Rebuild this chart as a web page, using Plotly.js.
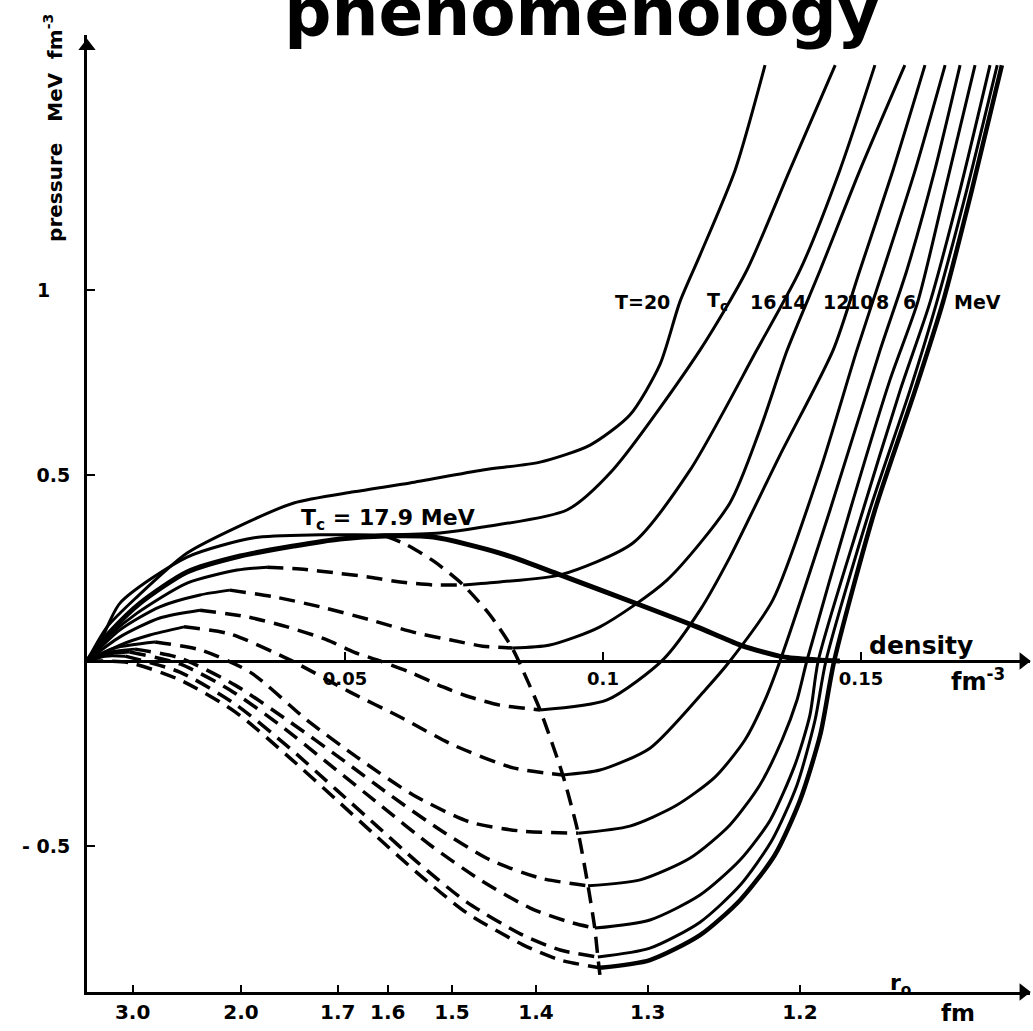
<!DOCTYPE html>
<html><head><meta charset="utf-8">
<script src="https://cdn.plot.ly/plotly-3.0.1.min.js"></script>
<style>html,body{margin:0;padding:0;background:#fff;} #chart{width:1033px;height:1031px;}</style>
</head><body><div id="chart"></div>
<script>
// ---------------- DATA (density fm^-3, pressure MeV fm^-3) ----------------
const T20_rho = [0, 0.0039, 0.0097, 0.0194, 0.0291, 0.0401, 0.0517, 0.0626, 0.0767, 0.0878, 0.0975, 0.1052, 0.1110, 0.1149, 0.1188, 0.1256, 0.1314];
const T20_p   = [0, 0.092, 0.173, 0.291, 0.361, 0.426, 0.456, 0.480, 0.515, 0.536, 0.582, 0.663, 0.798, 0.968, 1.094, 1.323, 1.606];

const TC_rho = [0, 0.0025, 0.0064, 0.0194, 0.0324, 0.0452, 0.0578, 0.0684, 0.0767, 0.0930, 0.1019, 0.1188, 0.1279, 0.1362, 0.1450];
const TC_p   = [0, 0.050, 0.156, 0.280, 0.332, 0.340, 0.340, 0.345, 0.361, 0.407, 0.515, 0.838, 1.054, 1.323, 1.606];

const T16_gas_rho  = [0, 0.0045, 0.0097, 0.0194, 0.0291, 0.0349];
const T16_gas_p    = [0, 0.070, 0.129, 0.210, 0.245, 0.253];
const T16_loop_rho = [0.0349, 0.0413, 0.0484, 0.0548, 0.0607, 0.0671, 0.0729];
const T16_loop_p   = [0.253, 0.248, 0.237, 0.226, 0.213, 0.205, 0.205];
const T16_liq_rho  = [0.0729, 0.0800, 0.0917, 0.1058, 0.1169, 0.1298, 0.1382, 0.1459, 0.1527];
const T16_liq_p    = [0.205, 0.213, 0.232, 0.318, 0.515, 0.838, 1.054, 1.323, 1.606];

const T14_gas_rho  = [0, 0.0064, 0.0141, 0.0219, 0.0277];
const T14_gas_p    = [0, 0.084, 0.146, 0.178, 0.191];
const T14_loop_rho = [0.0277, 0.0362, 0.0452, 0.0548, 0.0640, 0.0703, 0.0767, 0.0824];
const T14_loop_p   = [0.191, 0.173, 0.146, 0.111, 0.075, 0.057, 0.040, 0.035];
const T14_liq_rho  = [0.0824, 0.0897, 0.0994, 0.1124, 0.1246, 0.1304, 0.1357, 0.1421, 0.1498, 0.1585];
const T14_liq_p    = [0.035, 0.043, 0.092, 0.218, 0.426, 0.623, 0.838, 1.054, 1.323, 1.606];

const T12_gas_rho  = [0, 0.0064, 0.0141, 0.0219];
const T12_gas_p    = [0, 0.065, 0.116, 0.137];
const T12_loop_rho = [0.0219, 0.0310, 0.0388, 0.0465, 0.0517, 0.0568, 0.0626, 0.0690, 0.0742, 0.0800, 0.0858, 0.0878];
const T12_loop_p   = [0.137, 0.119, 0.092, 0.057, 0.024, 0, -0.030, -0.070, -0.097, -0.119, -0.129, -0.132];
const T12_liq_rho  = [0.0878, 0.1008, 0.1116, 0.1188, 0.1246, 0.1343, 0.1446, 0.1498, 0.1562, 0.1624];
const T12_liq_p    = [-0.132, -0.105, 0.003, 0.137, 0.280, 0.555, 0.838, 1.054, 1.323, 1.606];

const T10_gas_rho  = [0, 0.0064, 0.0122, 0.0188];
const T10_gas_p    = [0, 0.043, 0.070, 0.092];
const T10_loop_rho = [0.0188, 0.0277, 0.0393, 0.0510, 0.0607, 0.0709, 0.0826, 0.0922];
const T10_loop_p   = [0.092, 0.073, 0.003, -0.084, -0.151, -0.226, -0.288, -0.307];
const T10_liq_rho  = [0.0922, 0.0994, 0.1091, 0.1198, 0.1246, 0.1329, 0.1421, 0.1492, 0.1543, 0.1605, 0.1663];
const T10_liq_p    = [-0.307, -0.294, -0.235, -0.078, 0, 0.164, 0.515, 0.838, 1.054, 1.323, 1.606];

const T8_gas_rho  = [0, 0.0054, 0.0132];
const T8_gas_p    = [0, 0.035, 0.051];
const T8_loop_rho = [0.0132, 0.0219, 0.0316, 0.0426, 0.0523, 0.0632, 0.0742, 0.0839, 0.0952];
const T8_loop_p   = [0.051, 0.030, -0.030, -0.159, -0.259, -0.361, -0.434, -0.458, -0.464];
const T8_liq_rho  = [0.0952, 0.1052, 0.1140, 0.1217, 0.1275, 0.1314, 0.1343, 0.1440, 0.1537, 0.1589, 0.1643, 0.1692];
const T8_liq_p    = [-0.464, -0.445, -0.391, -0.313, -0.213, -0.105, 0, 0.407, 0.838, 1.054, 1.323, 1.606];

const T6_gas_rho  = [0, 0.0045, 0.0093];
const T6_gas_p    = [0, 0.024, 0.032];
const T6_loop_rho = [0.0093, 0.0180, 0.0287, 0.0393, 0.0490, 0.0587, 0.0684, 0.0781, 0.0878, 0.0971];
const T6_loop_p   = [0.032, 0.008, -0.065, -0.164, -0.261, -0.361, -0.455, -0.536, -0.585, -0.606];
const T6_liq_rho  = [0.0971, 0.1072, 0.1169, 0.1246, 0.1304, 0.1347, 0.1376, 0.1395, 0.1479, 0.1556, 0.1610, 0.1663, 0.1721];
const T6_liq_p    = [-0.606, -0.590, -0.531, -0.442, -0.334, -0.213, -0.105, 0, 0.407, 0.757, 0.968, 1.270, 1.606];

const T4_gas_rho  = [0, 0.0045, 0.0083];
const T4_gas_p    = [0, 0.019, 0.024];
const T4_loop_rho = [0.0083, 0.0180, 0.0277, 0.0374, 0.0471, 0.0568, 0.0665, 0.0762, 0.0859, 0.0936, 0.0984];
const T4_loop_p   = [0.024, -0.008, -0.078, -0.173, -0.280, -0.388, -0.496, -0.590, -0.666, -0.704, -0.720];
const T4_liq_rho  = [0.0984, 0.1091, 0.1188, 0.1266, 0.1324, 0.1372, 0.1401, 0.1417, 0.1498, 0.1576, 0.1634, 0.1692, 0.1750];
const T4_liq_p    = [-0.720, -0.698, -0.631, -0.536, -0.429, -0.280, -0.146, 0, 0.380, 0.730, 0.968, 1.270, 1.606];

const T2_gas_rho  = [0, 0.0035, 0.0074];
const T2_gas_p    = [0, 0.013, 0.013];
const T2_loop_rho = [0.0074, 0.0180, 0.0287, 0.0393, 0.0484, 0.0562, 0.0640, 0.0736, 0.0845, 0.0917, 0.0990];
const T2_loop_p   = [0.013, -0.030, -0.116, -0.235, -0.348, -0.445, -0.542, -0.650, -0.739, -0.779, -0.798];
const T2_liq_rho  = [0.0990, 0.1091, 0.1188, 0.1266, 0.1328, 0.1376, 0.1411, 0.1432, 0.1517, 0.1595, 0.1647, 0.1705, 0.1764];
const T2_liq_p    = [-0.798, -0.774, -0.704, -0.604, -0.482, -0.334, -0.159, 0, 0.407, 0.730, 0.968, 1.270, 1.606];

const T0_loop_rho = [0, 0.0083, 0.0180, 0.0287, 0.0393, 0.0484, 0.0562, 0.0640, 0.0736, 0.0845, 0.0917, 0.0994];
const T0_loop_p   = [0, -0.005, -0.051, -0.137, -0.261, -0.375, -0.474, -0.571, -0.679, -0.765, -0.806, -0.827];
const T0_liq_rho  = [0.0994, 0.1091, 0.1188, 0.1266, 0.1333, 0.1382, 0.1421, 0.1448, 0.1527, 0.1605, 0.1659, 0.1715, 0.1773];
const T0_liq_p    = [-0.827, -0.806, -0.739, -0.644, -0.523, -0.375, -0.199, 0, 0.407, 0.730, 0.968, 1.270, 1.606];

// coexistence (thick) curve and spinodal (dashed) curve
const coex_rho = [0, 0.0045, 0.0103, 0.0194, 0.0297, 0.0401, 0.0490, 0.0578, 0.0671, 0.0800, 0.0917, 0.1072, 0.1182, 0.1266, 0.1349, 0.1415, 0.1459];
const coex_p   = [0, 0.078, 0.156, 0.240, 0.283, 0.310, 0.329, 0.337, 0.334, 0.291, 0.232, 0.151, 0.092, 0.043, 0.011, 0.003, 0];
const spin_rho = [0.0578, 0.0620, 0.0674, 0.0729, 0.0781, 0.0824, 0.0853, 0.0878, 0.0922, 0.0952, 0.0971, 0.0984, 0.0990, 0.0994];
const spin_p   = [0.337, 0.313, 0.267, 0.205, 0.124, 0.035, -0.051, -0.132, -0.307, -0.464, -0.606, -0.720, -0.798, -0.846];

// axis ticks
const density_ticks  = [0.05, 0.1, 0.15];
const density_labels = ["0.05", "0.1", "0.15"];
const pressure_ticks  = [-0.5, 0.5, 1];
const pressure_labels = ["- 0.5", "0.5", "1\u00a0\u00a0\u00a0"];
const r0_fm     = [3.0, 2.0, 1.7, 1.6, 1.5, 1.4, 1.3, 1.2];
const r0_labels = ["3.0", "2.0", "1.7", "1.6", "1.5", "1.4", "1.3", "1.2"];
const iso_labels = ["T=20", "T<sub>c</sub>", "16", "14", "12", "10", "8", "6", "MeV"];

// ---------------- LAYOUT / STYLE ----------------
const r0_rho = r0_fm.map(r => 3 / (4 * Math.PI * r * r * r));
const iso_label_x = [0.1076, 0.1221, 0.1310, 0.1368, 0.1451, 0.1499, 0.1541, 0.1594, 0.1725];
const iso_label_y = 0.968;
const X_MAX = 0.18275, Y_MIN = -0.8922, Y_MAX = 1.6873;
const FONT = 'DejaVu Sans';

function solid(x, y, w) {
  return {x: x, y: y, type: 'scatter', mode: 'lines', hoverinfo: 'skip', showlegend: false,
          line: {color: '#000', width: w || 3, shape: 'spline', smoothing: 0.7}};
}
function dashed(x, y, w) {
  return {x: x, y: y, type: 'scatter', mode: 'lines', hoverinfo: 'skip', showlegend: false,
          line: {color: '#000', width: w || 3.5, dash: '16px,9px', shape: 'spline', smoothing: 0.7}};
}

const traces = [
  solid(T20_rho, T20_p), solid(TC_rho, TC_p),
  solid(T16_gas_rho, T16_gas_p), dashed(T16_loop_rho, T16_loop_p), solid(T16_liq_rho, T16_liq_p),
  solid(T14_gas_rho, T14_gas_p), dashed(T14_loop_rho, T14_loop_p), solid(T14_liq_rho, T14_liq_p),
  solid(T12_gas_rho, T12_gas_p), dashed(T12_loop_rho, T12_loop_p), solid(T12_liq_rho, T12_liq_p),
  solid(T10_gas_rho, T10_gas_p), dashed(T10_loop_rho, T10_loop_p), solid(T10_liq_rho, T10_liq_p),
  solid(T8_gas_rho, T8_gas_p), dashed(T8_loop_rho, T8_loop_p), solid(T8_liq_rho, T8_liq_p),
  solid(T6_gas_rho, T6_gas_p), dashed(T6_loop_rho, T6_loop_p), solid(T6_liq_rho, T6_liq_p),
  solid(T4_gas_rho, T4_gas_p), dashed(T4_loop_rho, T4_loop_p), solid(T4_liq_rho, T4_liq_p),
  solid(T2_gas_rho, T2_gas_p), dashed(T2_loop_rho, T2_loop_p), solid(T2_liq_rho, T2_liq_p),
  dashed(T0_loop_rho, T0_loop_p), solid(T0_liq_rho, T0_liq_p, 4.5),
  solid(coex_rho, coex_p, 5),
  dashed(spin_rho, spin_p, 3.5),
  // axis arrowheads (tips at the axis ends)
  {x: [0], y: [Y_MAX - 0.03], type: 'scatter', mode: 'markers', cliponaxis: false, hoverinfo: 'skip', showlegend: false,
   marker: {symbol: 'triangle-up', size: 15, color: '#000'}},
  {x: [X_MAX - 0.0013, X_MAX - 0.0013], y: [0, Y_MIN], type: 'scatter', mode: 'markers', cliponaxis: false,
   hoverinfo: 'skip', showlegend: false, marker: {symbol: 'triangle-right', size: 15, color: '#000'}},
  // invisible point so the density axis is drawn
  {x: [0], y: [0], xaxis: 'x2', type: 'scatter', mode: 'markers', marker: {opacity: 0}, hoverinfo: 'skip', showlegend: false}
];

const annotations = [];
iso_labels.forEach((t, i) => annotations.push({
  x: iso_label_x[i], y: iso_label_y, xref: 'x', yref: 'y', text: t, showarrow: false,
  font: {family: FONT, size: 19, color: '#000', weight: 'bold'}, xanchor: 'center', yanchor: 'middle'
}));
annotations.push(
  {x: 0.0583, y: 0.382, xref: 'x', yref: 'y', text: 'T<sub>c</sub> = 17.9 MeV', showarrow: false,
   font: {family: FONT, size: 22, color: '#000', weight: 'bold'}},
  {x: 0.1616, y: 0.042, xref: 'x', yref: 'y', text: 'density', showarrow: false,
   font: {family: FONT, size: 25, color: '#000', weight: 'bold'}},
  {x: 0.1727, y: -0.050, xref: 'x', yref: 'y', text: 'fm<sup>-3</sup>', showarrow: false,
   font: {family: FONT, size: 24, color: '#000', weight: 'bold'}},
  {x: 0.1576, y: -0.872, xref: 'x', yref: 'y', text: 'r<sub>o</sub>', showarrow: false,
   font: {family: FONT, size: 22, color: '#000', weight: 'bold'}},
  {x: 0.1688, y: -0.022, xref: 'x', yref: 'paper', text: 'fm', showarrow: false, yanchor: 'middle',
   font: {family: FONT, size: 23, color: '#000', weight: 'bold'}},
  {x: -0.036, y: 0.903, xref: 'paper', yref: 'paper', xanchor: 'center', yanchor: 'middle',
   text: 'pressure\u00a0\u00a0 MeV \u00a0fm<sup>-3</sup>',
   textangle: -90, showarrow: false, font: {family: FONT, size: 20, color: '#000', weight: 'bold'}}
);

const layout = {
  width: 1033, height: 1031,
  paper_bgcolor: '#fff', plot_bgcolor: '#fff',
  margin: {l: 87, r: 3, t: 35, b: 39},
  showlegend: false,
  title: {text: 'phenomenology', font: {family: FONT, size: 66, color: '#000', weight: 'bold'},
          xref: 'container', x: 0.5634, xanchor: 'center', yref: 'container', y: 0.988, yanchor: 'middle'},
  xaxis: {range: [0, X_MAX], showgrid: false, zeroline: false, showline: true, linewidth: 3, linecolor: '#000',
          tickmode: 'array', tickvals: r0_rho, ticktext: r0_labels, ticks: 'inside', ticklen: 7, tickwidth: 2,
          tickcolor: '#000', tickfont: {family: FONT, size: 20, color: '#000', weight: 'bold'}, ticklabelstandoff: 0},
  xaxis2: {overlaying: 'x', matches: 'x', anchor: 'free', position: -Y_MIN / (Y_MAX - Y_MIN), side: 'bottom',
           showgrid: false, zeroline: false, showline: true, linewidth: 3, linecolor: '#000',
           tickmode: 'array', tickvals: density_ticks, ticktext: density_labels, ticks: 'inside', ticklen: 8,
           tickwidth: 2, tickcolor: '#000', tickfont: {family: FONT, size: 18, color: '#000', weight: 'bold'}},
  yaxis: {range: [Y_MIN, Y_MAX], showgrid: false, zeroline: false, showline: true, linewidth: 3, linecolor: '#000',
          tickmode: 'array', tickvals: pressure_ticks, ticktext: pressure_labels, ticks: 'inside', ticklen: 8,
          tickwidth: 2, tickcolor: '#000', tickfont: {family: FONT, size: 19, color: '#000', weight: 'bold'},
          ticklabelstandoff: 10},
  annotations: annotations
};

Plotly.newPlot('chart', traces, layout, {staticPlot: true, displayModeBar: false});
</script></body></html>
